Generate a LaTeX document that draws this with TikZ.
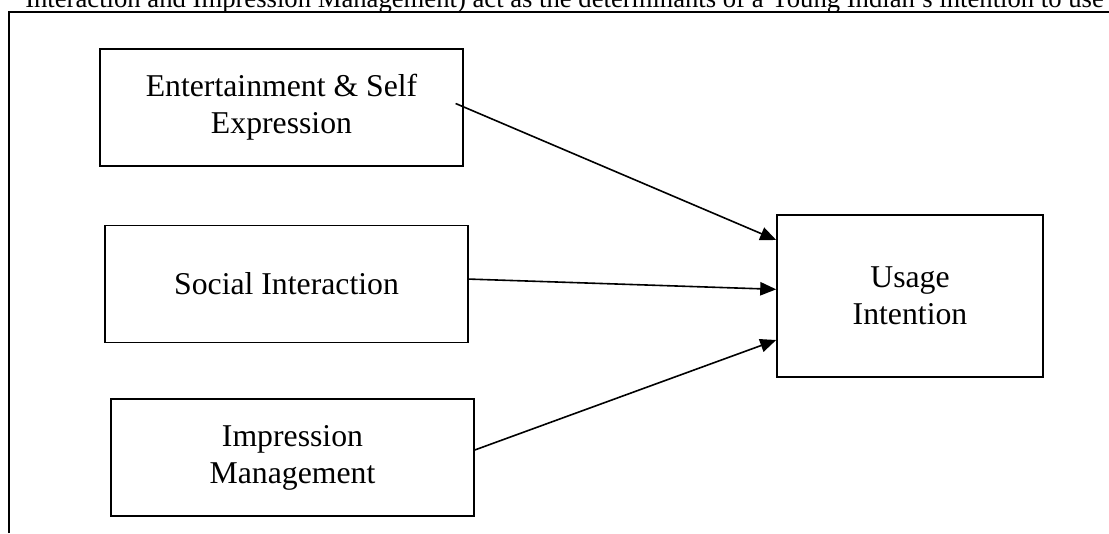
\documentclass[tikz,border=0pt]{standalone}
\usepackage{fontspec}
\setmainfont{Liberation Serif}
\usetikzlibrary{arrows.meta}

\begin{document}
\begin{tikzpicture}[
    x=0.75pt, y=-0.75pt,
    factor/.style={rectangle, draw, line width=1.2pt, minimum width=272pt, minimum height=87.5pt, align=center, font=\fontsize{23.8}{27.7}\selectfont},
    target/.style={rectangle, draw, line width=1.2pt, minimum width=199.5pt, minimum height=121.5pt, align=center, font=\fontsize{23.8}{27.7}\selectfont},
    arrow/.style={-{Triangle[length=12pt, width=10pt]}, line width=1.2pt}
]
    \useasboundingbox (0,0) rectangle (1109,533);

    % Texte coupé en haut
    \node[anchor=base west, inner sep=0pt, font=\fontsize{20}{24}\selectfont] (caption) at (25,7)
        {Interaction and Impression Management) act as the determinants of a Young Indian’s intention to use};

    % Cadre
    \draw[line width=1.5pt] (9,533) -- (9,12) -- (1109,12);

    % Facteurs
    \node[factor] (ent) at (281.5, 107.5) {Entertainment \& Self\\Expression};
    \node[factor] (soc) at (286.5, 284) {Social Interaction};
    \node[factor] (imp) at (292.5, 457.5) {Impression\\Management};

    % Intention
    \node[target] (use) at (910, 296) {Usage\\Intention};

    % Liens
    \draw[arrow] ([xshift=-6pt, yshift=3pt]ent.east) -- ([yshift=42pt]use.west);
    \draw[arrow] ([yshift=3.7pt]soc.east) -- ([yshift=5pt]use.west);
    \draw[arrow] ([yshift=5.6pt]imp.east) -- ([yshift=-33pt]use.west);

\end{tikzpicture}
\end{document}
